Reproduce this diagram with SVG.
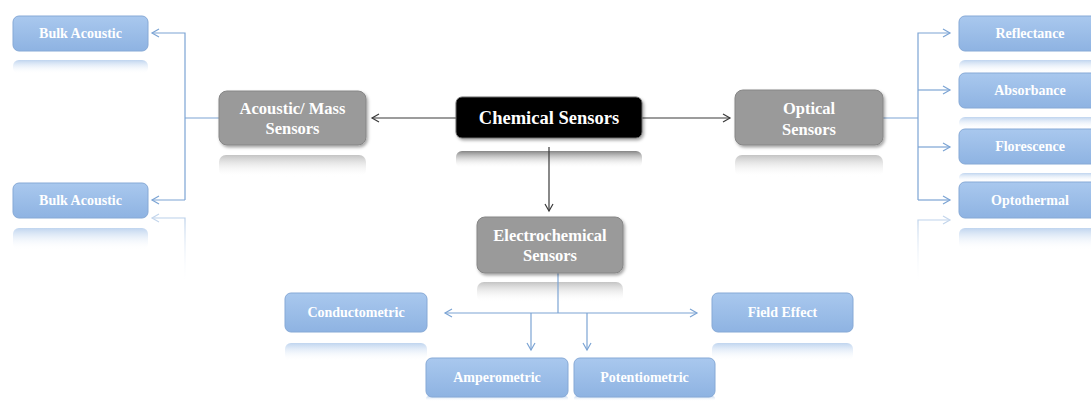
<svg xmlns="http://www.w3.org/2000/svg" width="1091" height="401" viewBox="0 0 1091 401">
<defs>
<style>
.blue{fill:url(#gBlue);stroke:#86a9d6;stroke-width:1}
.gray{fill:#9a9a9a;stroke:#868686;stroke-width:1;filter:url(#sh)}
.blk{fill:#000;stroke:#6a6a6a;stroke-width:1;filter:url(#sh)}
.bt{font-family:"Liberation Serif",serif;font-weight:bold;font-size:14px;fill:#fff;text-anchor:middle}
.gt{font-family:"Liberation Serif",serif;font-weight:bold;font-size:16.5px;fill:#fff;text-anchor:middle}
.ct{font-family:"Liberation Serif",serif;font-weight:bold;font-size:18.5px;fill:#fff;text-anchor:middle}
.bl{fill:none;stroke:#7ca4d4;stroke-width:1.2}
.dk{fill:none;stroke:#3a3a3a;stroke-width:1.2}
.rb{fill:url(#gRB)}
.rg{fill:url(#gRG)}
.rk{fill:url(#gRK)}
</style>
<linearGradient id="gBlue" x1="0" y1="0" x2="0" y2="1"><stop offset="0" stop-color="#a9c8ee"/><stop offset="1" stop-color="#8eb3e2"/></linearGradient>
<linearGradient id="gRB" x1="0" y1="0" x2="0" y2="1"><stop offset="0" stop-color="#b4cdec" stop-opacity="0.85"/><stop offset="1" stop-color="#ffffff" stop-opacity="0"/></linearGradient>
<linearGradient id="gRG" x1="0" y1="0" x2="0" y2="1"><stop offset="0" stop-color="#bdbdbd" stop-opacity="0.9"/><stop offset="1" stop-color="#ffffff" stop-opacity="0"/></linearGradient>
<linearGradient id="gRK" x1="0" y1="0" x2="0" y2="1"><stop offset="0" stop-color="#7e7e7e" stop-opacity="0.95"/><stop offset="1" stop-color="#ffffff" stop-opacity="0"/></linearGradient>
<linearGradient id="gFadeL" gradientUnits="userSpaceOnUse" x1="0" y1="210" x2="0" y2="285"><stop offset="0" stop-color="#a9c4e4"/><stop offset="1" stop-color="#ffffff" stop-opacity="0"/></linearGradient>
<filter id="sh" x="-10%" y="-10%" width="125%" height="135%"><feDropShadow dx="1.5" dy="2" stdDeviation="1.5" flood-color="#000" flood-opacity="0.35"/></filter>
<marker id="ab" markerWidth="10" markerHeight="10" refX="8" refY="5" orient="auto" markerUnits="userSpaceOnUse"><path d="M1,1 L8,5 L1,9" fill="none" stroke="#7ca4d4" stroke-width="1.2"/></marker>
<marker id="af" markerWidth="10" markerHeight="10" refX="8" refY="5" orient="auto" markerUnits="userSpaceOnUse"><path d="M1,1 L8,5 L1,9" fill="none" stroke="#c4d6ec" stroke-width="1.2"/></marker>
<marker id="ad" markerWidth="10" markerHeight="10" refX="8" refY="5" orient="auto" markerUnits="userSpaceOnUse"><path d="M1,1 L8,5 L1,9" fill="none" stroke="#3a3a3a" stroke-width="1.2"/></marker>
</defs>
<rect width="1091" height="401" fill="#fff"/>

<g id="reflections">
<rect class="rb" x="13" y="60" width="135" height="14" rx="6"/>
<rect class="rb" x="13" y="228" width="135" height="22" rx="6"/>
<rect class="rg" x="219" y="155" width="147" height="22" rx="7"/>
<rect class="rk" x="456" y="151" width="186" height="17" rx="6"/>
<rect class="rg" x="735" y="155" width="148" height="22" rx="7"/>
<rect class="rb" x="959" y="60" width="141" height="13" rx="6"/>
<rect class="rb" x="959" y="117" width="141" height="12" rx="6"/>
<rect class="rb" x="959" y="173" width="141" height="9" rx="6"/>
<rect class="rb" x="959" y="228" width="141" height="22" rx="6"/>
<rect class="rg" x="477" y="282" width="146" height="20" rx="7"/>
<rect class="rb" x="285" y="343" width="142" height="18" rx="6"/>
<rect class="rb" x="712" y="343" width="141" height="18" rx="6"/>
<rect class="rb" x="426" y="396" width="142" height="5" rx="3"/>
<rect class="rb" x="574" y="396" width="141" height="5" rx="3"/>
</g>

<g id="connectors">
<path class="dk" d="M456,118 H372" marker-end="url(#ad)"/>
<path class="dk" d="M642,118 H730" marker-end="url(#ad)"/>
<path class="dk" d="M549,147 V211" marker-end="url(#ad)"/>
<path class="bl" d="M219,118 H185"/>
<path class="bl" d="M185,200 V33 H152" marker-end="url(#ab)"/>
<path class="bl" d="M185,200 H152" marker-end="url(#ab)"/>
<path d="M185,280 V218 H152" fill="none" stroke="url(#gFadeL)" stroke-width="1.2" marker-end="url(#af)"/>
<path class="bl" d="M883,118 H918"/>
<path class="bl" d="M918,200 V33 H950" marker-end="url(#ab)"/>
<path class="bl" d="M918,90 H950" marker-end="url(#ab)"/>
<path class="bl" d="M918,147 H950" marker-end="url(#ab)"/>
<path class="bl" d="M918,200 H950" marker-end="url(#ab)"/>
<path d="M918,285 V220 H950" fill="none" stroke="url(#gFadeL)" stroke-width="1.2" marker-end="url(#af)"/>
<path class="bl" d="M558,273 V313"/>
<path class="bl" d="M558,313 H445" marker-end="url(#ab)"/>
<path class="bl" d="M558,313 H697" marker-end="url(#ab)"/>
<path class="bl" d="M531,313 V350" marker-end="url(#ab)"/>
<path class="bl" d="M587,313 V350" marker-end="url(#ab)"/>
<path d="M531,374 V359" fill="none" stroke="#b7cce8" stroke-width="1"/>
<path d="M587,374 V359" fill="none" stroke="#b7cce8" stroke-width="1"/>
</g>

<g id="bulk1"><rect class="blue" x="13" y="16" width="135" height="35" rx="6"/><text class="bt" x="80.5" y="38">Bulk Acoustic</text></g>
<g id="bulk2"><rect class="blue" x="13" y="183" width="135" height="35" rx="6"/><text class="bt" x="80.5" y="205">Bulk Acoustic</text></g>
<g id="acoustic"><rect class="gray" x="219" y="91" width="147" height="54" rx="8"/><text class="gt" x="292.5" y="114">Acoustic/ Mass</text><text class="gt" x="292.5" y="134">Sensors</text></g>
<g id="chemical"><rect class="blk" x="456" y="97" width="186" height="41" rx="6"/><text class="ct" x="549" y="124">Chemical Sensors</text></g>
<g id="optical"><rect class="gray" x="735" y="90" width="148" height="55" rx="8"/><text class="gt" x="809" y="114">Optical</text><text class="gt" x="809" y="135">Sensors</text></g>
<g id="reflectance"><rect class="blue" x="959" y="16" width="141" height="35" rx="6"/><text class="bt" x="1030" y="38">Reflectance</text></g>
<g id="absorbance"><rect class="blue" x="959" y="73" width="141" height="35" rx="6"/><text class="bt" x="1030" y="95">Absorbance</text></g>
<g id="florescence"><rect class="blue" x="959" y="129" width="141" height="35" rx="6"/><text class="bt" x="1030" y="151">Florescence</text></g>
<g id="optothermal"><rect class="blue" x="959" y="182" width="141" height="36" rx="6"/><text class="bt" x="1030" y="205">Optothermal</text></g>
<g id="electrochemical"><rect class="gray" x="477" y="217" width="146" height="56" rx="8"/><text class="gt" x="550" y="241">Electrochemical</text><text class="gt" x="550" y="261">Sensors</text></g>
<g id="conductometric"><rect class="blue" x="285" y="293" width="142" height="39" rx="6"/><text class="bt" x="356" y="317">Conductometric</text></g>
<g id="fieldeffect"><rect class="blue" x="712" y="293" width="141" height="39" rx="6"/><text class="bt" x="782.5" y="317">Field Effect</text></g>
<g id="amperometric"><rect class="blue" x="426" y="358" width="142" height="39" rx="6"/><text class="bt" x="497" y="382">Amperometric</text></g>
<g id="potentiometric"><rect class="blue" x="574" y="358" width="141" height="39" rx="6"/><text class="bt" x="644.5" y="382">Potentiometric</text></g>
</svg>
